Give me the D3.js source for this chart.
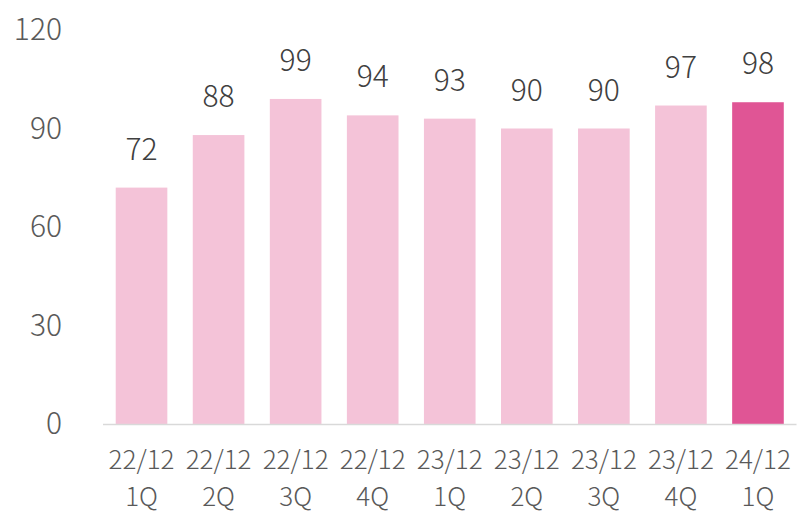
<!DOCTYPE html>
<html lang="ja">
<head>
  <meta charset="UTF-8" />
  <title>Quarterly chart</title>
  <script src="https://d3js.org/d3.v7.min.js"></script>
  <style>
    body {
      margin: 0;
      background: #fff;
      overflow: hidden;
    }
    text {
      font-family: "Noto Sans CJK JP", "Noto Sans", sans-serif;
      font-weight: 300;
    }
  </style>
</head>
<body>
  <script>
    // Data
    const years = ["22/12", "22/12", "22/12", "22/12", "23/12", "23/12", "23/12", "23/12", "24/12"];
    const quarters = ["1Q", "2Q", "3Q", "4Q", "1Q", "2Q", "3Q", "4Q", "1Q"];
    const values = [72, 88, 99, 94, 93, 90, 90, 97, 98];
    const yTicks = [0, 30, 60, 90, 120];

    const width = 797, height = 515;
    const categories = years.map((y, i) => i);

    const svg = d3.select("body").append("svg")
      .attr("width", width)
      .attr("height", height);

    const x = d3.scaleBand()
      .domain(categories)
      .range([103, 796.5])
      .paddingInner(0.33)
      .paddingOuter(0.165);

    const y = d3.scaleLinear()
      .domain([0, 120])
      .range([424, 30]);

    // Y tick labels (no axis line, no gridlines)
    svg.append("g")
      .selectAll("text")
      .data(yTicks)
      .join("text")
      .attr("x", 62)
      .attr("y", d => y(d) - 3)
      .attr("text-anchor", "end")
      .attr("dominant-baseline", "central")
      .attr("fill", "#595959")
      .style("font-size", "30px")
      .text(d => d);

    // Bars
    svg.append("g")
      .selectAll("rect")
      .data(values)
      .join("rect")
      .attr("x", (d, i) => x(i))
      .attr("y", d => y(d))
      .attr("width", x.bandwidth())
      .attr("height", d => y(0) - y(d))
      .attr("fill", (d, i) => i === values.length - 1 ? "#e05595" : "#f4c3d8");

    // Value labels
    svg.append("g")
      .selectAll("text")
      .data(values)
      .join("text")
      .attr("x", (d, i) => x(i) + x.bandwidth() / 2)
      .attr("y", d => y(d) - 28)
      .attr("text-anchor", "middle")
      .attr("fill", "#404040")
      .style("font-size", "30px")
      .text(d => d);

    // Baseline
    svg.append("line")
      .attr("x1", 103)
      .attr("x2", 796.5)
      .attr("y1", y(0) + 0.5)
      .attr("y2", y(0) + 0.5)
      .attr("stroke", "#d9d9d9")
      .attr("stroke-width", 1.5);

    // Category labels, two lines
    const cat = svg.append("g")
      .selectAll("text")
      .data(categories)
      .join("text")
      .attr("text-anchor", "middle")
      .attr("fill", "#595959")
      .style("font-size", "26px");

    cat.append("tspan")
      .attr("x", d => x(d) + x.bandwidth() / 2)
      .attr("y", 469)
      .text(d => years[d]);

    cat.append("tspan")
      .attr("x", d => x(d) + x.bandwidth() / 2)
      .attr("y", 506)
      .text(d => quarters[d]);
  </script>
</body>
</html>
